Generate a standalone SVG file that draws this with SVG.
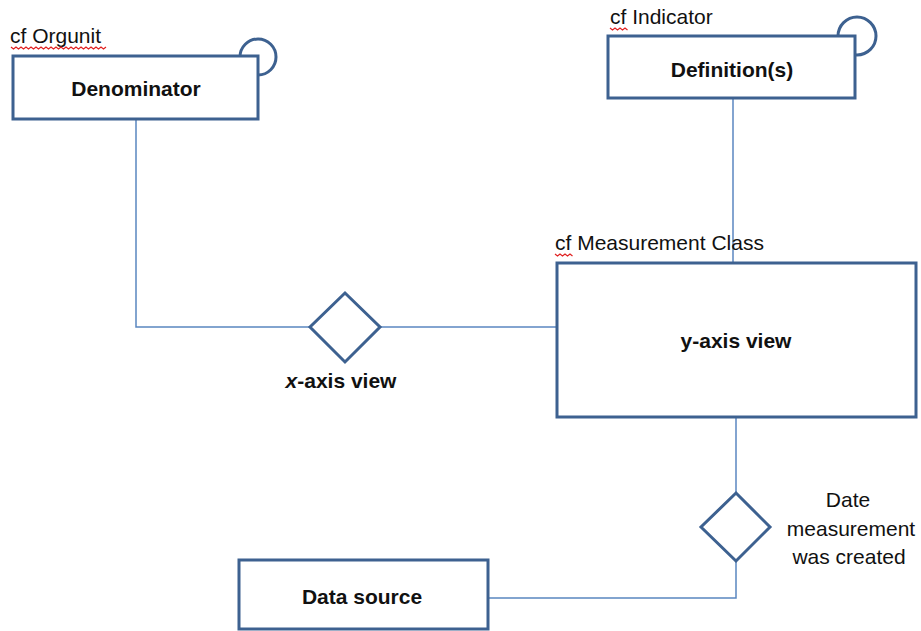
<svg xmlns="http://www.w3.org/2000/svg" width="921" height="631" viewBox="0 0 921 631">
<style>
.box{fill:#fff;stroke:#3d6190;stroke-width:3}
.dia{fill:#fff;stroke:#3d6190;stroke-width:3}
.loop{fill:none;stroke:#3d6190;stroke-width:3}
.conn{fill:none;stroke:#5a86c0;stroke-width:1.5}
.lbl{font-family:"Liberation Sans",Arial,sans-serif;font-size:21px;font-weight:bold;fill:#111;text-anchor:middle}
.cf{font-family:"Liberation Sans",Arial,sans-serif;font-size:21px;fill:#111}
.note{font-family:"Liberation Sans",Arial,sans-serif;font-size:21px;fill:#111;text-anchor:middle}
.sq{fill:none;stroke:#e02020;stroke-width:1.2}
</style>
<rect width="921" height="631" fill="#fff"/>
<g id="connectors">
<polyline class="conn" points="136,119 136,327 310,327"/>
<line class="conn" x1="380" y1="327" x2="557" y2="327"/>
<line class="conn" x1="733" y1="98" x2="733" y2="263"/>
<line class="conn" x1="736" y1="417" x2="736" y2="493"/>
<polyline class="conn" points="736,561 736,598 488,598"/>
</g>
<g id="denominator">
<circle class="loop" cx="258" cy="57" r="18"/>
<rect class="box" x="13" y="56" width="245" height="63"/>
<text class="lbl" x="136" y="96">Denominator</text>
<text class="cf" x="10" y="43">cf Orgunit</text>
<path class="sq" d="M11,47 l2.5,2 l2.5,-2 l2.5,2 l2.5,-2 l2.5,2 l2.5,-2 l2.5,2 l2.5,-2 l2.5,2 l2.5,-2 l2.5,2 l2.5,-2 l2.5,2 l2.5,-2 l2.5,2 l2.5,-2 l2.5,2 l2.5,-2 l2.5,2 l2.5,-2 l2.5,2 l2.5,-2 l2.5,2 l2.5,-2 l2.5,2 l2.5,-2 l2.5,2 l2.5,-2 l2.5,2 l2.5,-2 l2.5,2 l2.5,-2 l2.5,2 l2.5,-2 l2.5,2 l2.5,-2 l2.5,2 l2.5,-2"/>
</g>
<g id="definitions">
<circle class="loop" cx="857" cy="36" r="19"/>
<rect class="box" x="608" y="36" width="247" height="62"/>
<text class="lbl" x="732" y="77">Definition(s)</text>
<text class="cf" x="610" y="24">cf Indicator</text>
<path class="sq" d="M610,28 l2.5,2 l2.5,-2 l2.5,2 l2.5,-2 l2.5,2 l2.5,-2 l2.5,2"/>
</g>
<g id="yaxis">
<rect class="box" x="557" y="263" width="359" height="154"/>
<text class="lbl" x="736" y="348">y-axis view</text>
<text class="cf" x="555" y="250">cf Measurement Class</text>
<path class="sq" d="M555,254 l2.5,2 l2.5,-2 l2.5,2 l2.5,-2 l2.5,2 l2.5,-2 l2.5,2"/>
</g>
<g id="xaxis">
<polygon class="dia" points="345,293 380,327 345,362 310,327"/>
<text class="lbl" x="341" y="388"><tspan font-style="italic">x</tspan>-axis view</text>
</g>
<g id="date">
<polygon class="dia" points="736,493 770,527 736,561 701,527"/>
<text class="note" x="848" y="507">Date</text>
<text class="note" x="851" y="536">measurement</text>
<text class="note" x="849" y="564">was created</text>
</g>
<g id="datasource">
<rect class="box" x="239" y="560" width="249" height="69"/>
<text class="lbl" x="362" y="604">Data source</text>
</g>
</svg>
